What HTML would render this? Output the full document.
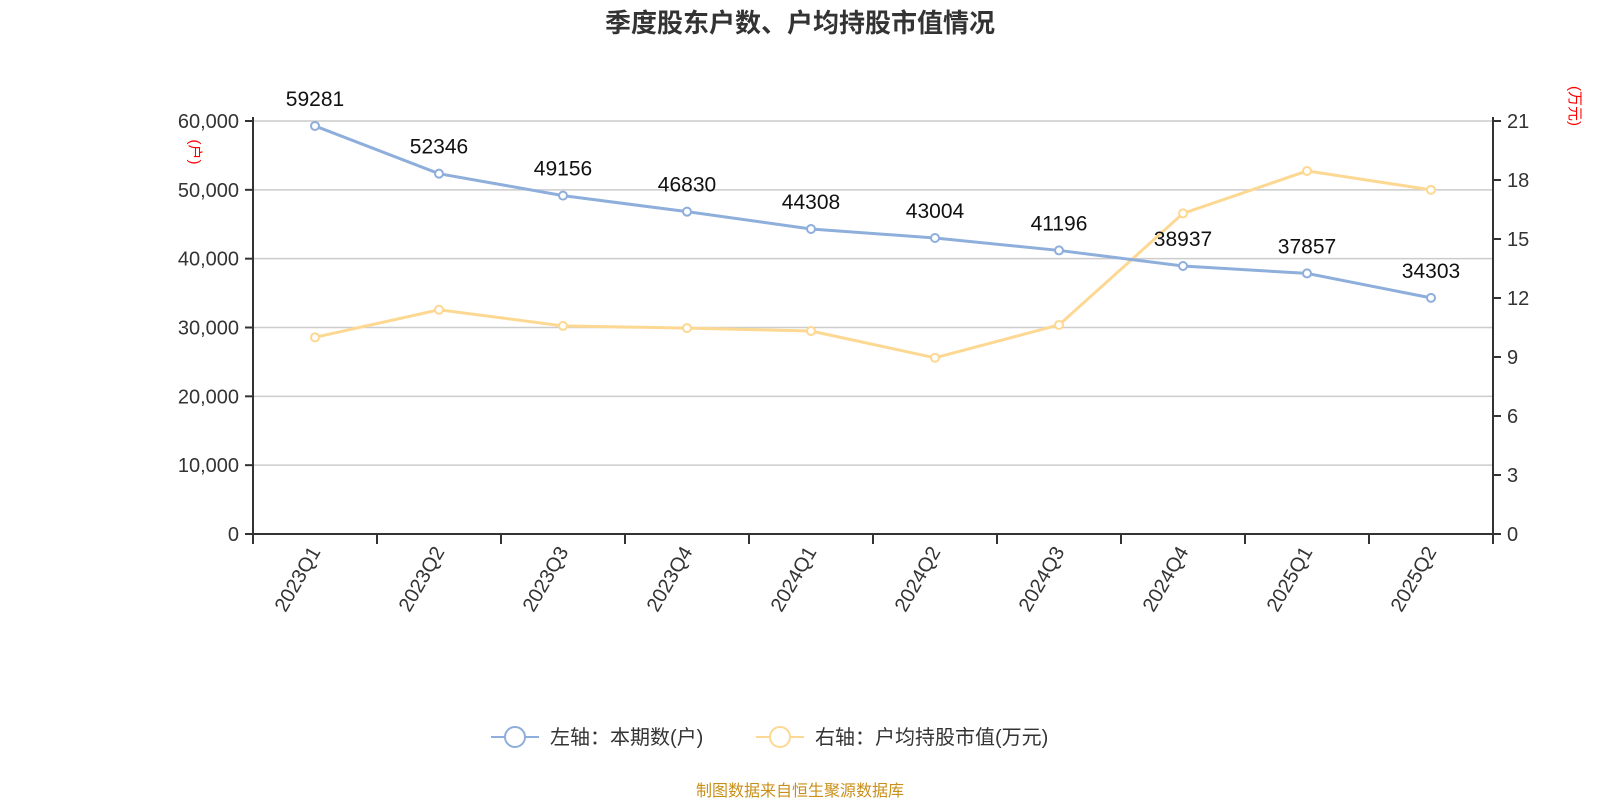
<!DOCTYPE html>
<html><head><meta charset="utf-8"><style>
body{margin:0;background:#fff;width:1600px;height:800px;overflow:hidden;font-family:"Liberation Sans","Noto Sans CJK SC",sans-serif}
</style></head><body>
<svg id="chart" width="1600" height="800" xmlns="http://www.w3.org/2000/svg" font-family="Liberation Sans, Noto Sans CJK SC, sans-serif">
<text x="800" y="32" text-anchor="middle" font-size="26" font-weight="bold" fill="#333">季度股东户数、户均持股市值情况</text>
<text transform="translate(190,152) rotate(90)" text-anchor="middle" font-size="15" fill="#f00">(户)</text>
<text transform="translate(1570,106) rotate(90)" text-anchor="middle" font-size="15" fill="#f00">(万元)</text>
<g id="grid"></g><g id="axes"></g><g id="series"></g>
<g>
<line x1="491" y1="737" x2="539" y2="737" stroke="#8eaedc" stroke-width="2"/>
<circle cx="515" cy="737" r="10" fill="#fff" stroke="#8eaedc" stroke-width="2"/>
<text x="550" y="744" font-size="20" fill="#333">左轴：本期数(户)</text>
<line x1="756" y1="737" x2="804" y2="737" stroke="#fdd892" stroke-width="2"/>
<circle cx="780" cy="737" r="10" fill="#fff" stroke="#fdd892" stroke-width="2"/>
<text x="815" y="744" font-size="20" fill="#333">右轴：户均持股市值(万元)</text>
</g>
<text x="800" y="796" text-anchor="middle" font-size="16" fill="#c8901a">制图数据来自恒生聚源数据库</text>
</svg>
<script>
const categories=["2023Q1","2023Q2","2023Q3","2023Q4","2024Q1","2024Q2","2024Q3","2024Q4","2025Q1","2025Q2"];
const households=[59281,52346,49156,46830,44308,43004,41196,38937,37857,34303];
const avgValue=[10.0,11.4,10.58,10.47,10.32,8.96,10.63,16.3,18.46,17.5];
const leftTicks=[0,10000,20000,30000,40000,50000,60000];
const rightTicks=[0,3,6,9,12,15,18,21];
const NS="http://www.w3.org/2000/svg";
const X0=253,X1=1493,Y0=534,Y1=121;
const bw=(X1-X0)/categories.length;
const xc=i=>X0+bw*(i+0.5);
const yl=v=>Y0-(v/60000)*(Y0-Y1);
const yr=v=>Y0-(v/21)*(Y0-Y1);
function mk(tag,attrs,parent,txt){const e=document.createElementNS(NS,tag);for(const k in attrs)e.setAttribute(k,attrs[k]);if(txt!==undefined)e.textContent=txt;document.getElementById(parent).appendChild(e);return e;}
leftTicks.forEach(t=>{
 if(t>0){const g=mk('line',{x1:X0,x2:X1,y1:yl(t),y2:yl(t),stroke:'#ccc','stroke-width':1.5},'grid');
 
 }
 const tk=mk('line',{x1:X0-8,x2:X0,y1:yl(t),y2:yl(t),stroke:'#333','stroke-width':2},'axes');
 
 
 const l=mk('text',{x:X0-14,y:yl(t)+7,'text-anchor':'end','font-size':20,fill:'#333'},'axes',t.toLocaleString('en-US'));
 
 
});
rightTicks.forEach(t=>{
 const tk=mk('line',{x1:X1,x2:X1+8,y1:yr(t),y2:yr(t),stroke:'#333','stroke-width':2},'axes');
 
 
 const l=mk('text',{x:X1+14,y:yr(t)+7,'font-size':20,fill:'#333'},'axes',String(t));
 
 
});
[['left-axis-line',X0],['right-axis-line',X1]].forEach(([n,x])=>{
 const a=mk('line',{x1:x,x2:x,y1:Y1-4,y2:Y0,stroke:'#333','stroke-width':2},'axes');
 
 
});
const xa=mk('line',{x1:X0,x2:X1,y1:Y0,y2:Y0,stroke:'#333','stroke-width':2},'axes');


for(let i=0;i<=categories.length;i++){
 const t=mk('line',{x1:X0+bw*i,x2:X0+bw*i,y1:Y0,y2:Y0+10,stroke:'#333','stroke-width':2},'axes');
 
 
}
categories.forEach((c,i)=>{
 const x=xc(i),y=Y0+14;
 const l=mk('text',{x:x,y:y+7,'text-anchor':'end','font-size':20,fill:'#333',transform:`rotate(-60 ${x} ${y})`},'axes',c);
 
 
});
function series(vals,yf,color,name,labels){
 const p=mk('polyline',{points:vals.map((v,i)=>xc(i)+','+yf(v)).join(' '),fill:'none',stroke:color,'stroke-width':3},'series');
 
 
 vals.forEach((v,i)=>{
  const c=mk('circle',{cx:xc(i),cy:yf(v),r:4,fill:'#fff',stroke:color,'stroke-width':2},'series');
  
  
  if(labels){const t=mk('text',{x:xc(i),y:yf(v)-20,'text-anchor':'middle','font-size':21,fill:'#111'},'series',String(v));
  
  }
 });
}
series(avgValue,yr,'#fdd892','avg-value',false);
series(households,yl,'#8eaedc','households',true);
</script>
</body></html>
